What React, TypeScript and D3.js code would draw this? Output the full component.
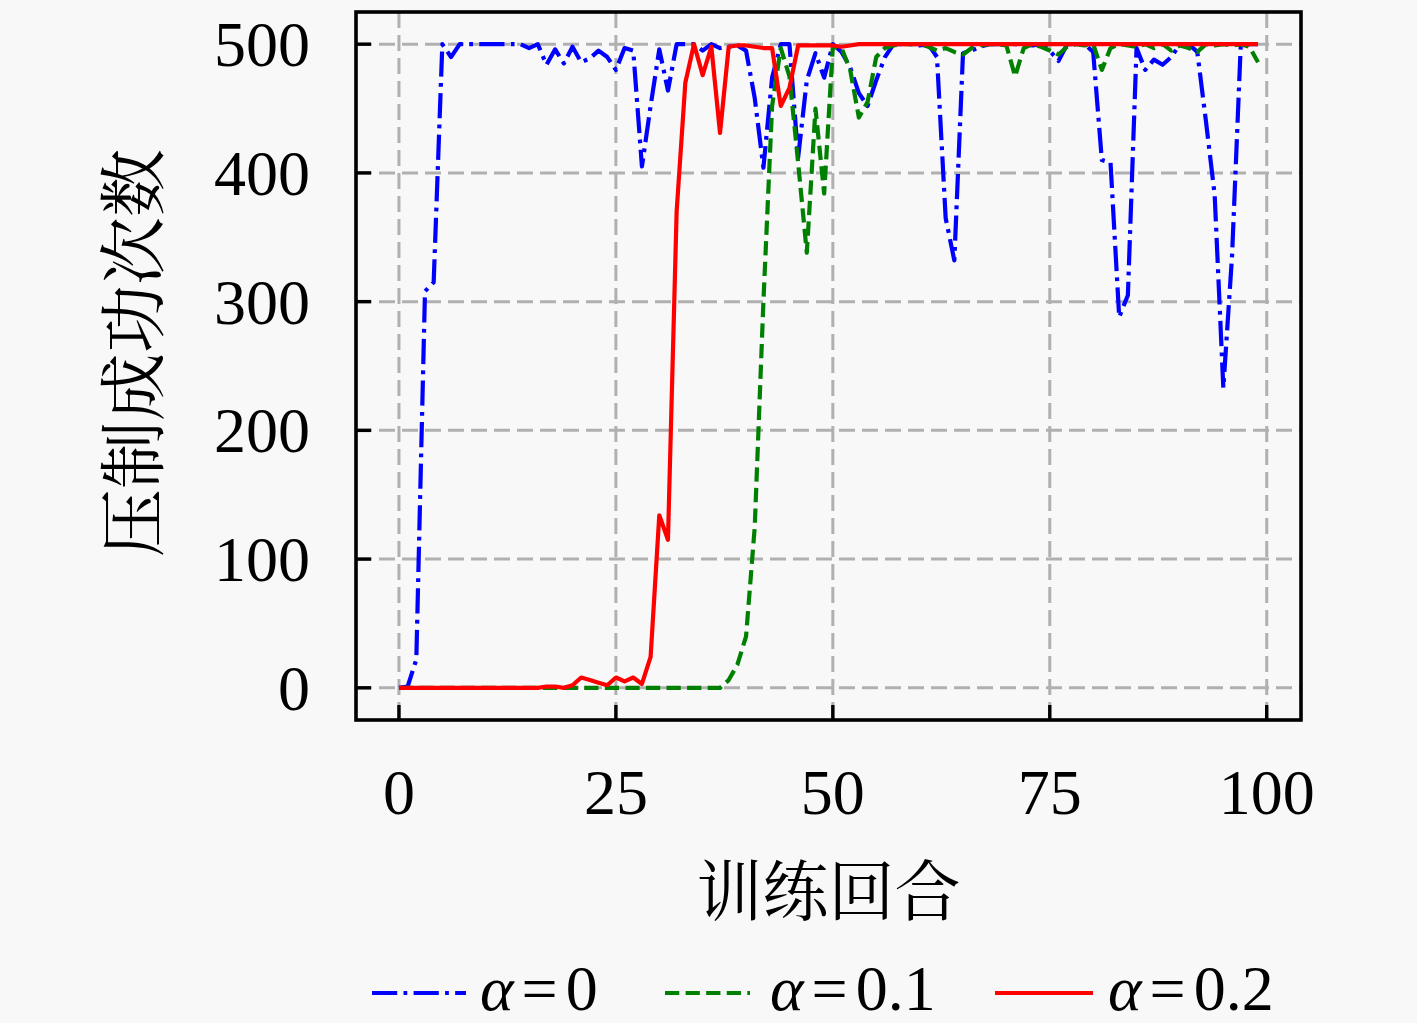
import { scaleLinear, line as d3_line, curveLinear } from "d3";

// training epochs 0..99
const epochs: number[] = Array.from({ length: 100 }, (_, i) => i);

// alpha = 0
const alpha0: number[] = [
  0, 1, 22, 308, 315, 500, 490, 500, 500, 500,
  500, 500, 500, 500, 500, 497, 500, 484, 496, 485,
  498, 486, 489, 495, 490, 480, 497, 495, 405, 452,
  496, 464, 500, 500, 500, 495, 500, 497, 498, 499,
  495, 458, 404, 474, 500, 500, 412, 472, 493, 474,
  500, 494, 482, 462, 452, 472, 490, 500, 500, 500,
  499, 500, 490, 365, 332, 493, 495, 498, 500, 500,
  500, 500, 500, 499, 500, 495, 487, 500, 500, 500,
  494, 410, 408, 288, 305, 497, 480, 488, 484, 490,
  500, 500, 494, 440, 383, 233, 335, 498, 500, 500,
];

// alpha = 0.1
const alpha01: number[] = [
  0, 0, 0, 0, 0, 0, 0, 0, 0, 0,
  0, 0, 0, 0, 0, 0, 0, 0, 0, 0,
  0, 0, 0, 0, 0, 0, 0, 0, 0, 0,
  0, 0, 0, 0, 0, 0, 0, 0, 6, 18,
  40, 125, 300, 452, 497, 475, 408, 338, 450, 384,
  498, 497, 480, 443, 455, 490, 497, 499, 500, 500,
  500, 498, 495, 497, 494, 492, 497, 499, 500, 500,
  499, 475, 497, 500, 498, 495, 492, 498, 500, 499,
  500, 480, 497, 500, 499, 498, 500, 497, 500, 495,
  499, 497, 494, 500, 499, 500, 499, 500, 498, 486,
];

// alpha = 0.2
const alpha02: number[] = [
  0, 0, 0, 0, 0, 0, 0, 0, 0, 0,
  0, 0, 0, 0, 0, 0, 0, 1, 1, 0,
  2, 8, 6, 4, 2, 8, 5, 8, 3, 24,
  134, 115, 370, 470, 500, 476, 498, 431, 498, 499,
  499, 498, 497, 497, 452, 466, 499, 499, 499, 499,
  499, 498, 499, 500, 500, 500, 500, 500, 500, 500,
  500, 500, 500, 500, 500, 500, 500, 500, 500, 500,
  500, 500, 500, 500, 500, 500, 500, 500, 500, 500,
  500, 500, 500, 500, 500, 500, 500, 500, 500, 500,
  500, 500, 500, 500, 500, 500, 500, 500, 500, 500,
];

const xTicks = [0, 25, 50, 75, 100];
const yTicks = [0, 100, 200, 300, 400, 500];
const seriesNames = ["0", "0.1", "0.2"];

const W = 1417;
const H = 1023;
const margin = { left: 356, right: 1301, top: 12, bottom: 720 };

const serif = "'Liberation Serif', 'DejaVu Serif', serif";
const cjk = "'Noto Serif CJK SC', 'Noto Sans CJK SC', sans-serif";

export default function App() {
  const x = scaleLinear().domain([-4.95, 103.95]).range([margin.left, margin.right]);
  const y = scaleLinear().domain([-25, 525]).range([margin.bottom, margin.top]);

  const makeLine = (vals: number[]) =>
    d3_line<number>()
      .x((_, i) => x(epochs[i]))
      .y((d) => y(d))
      .curve(curveLinear)(vals) ?? "";

  const lw = 4.2;
  const series = [
    { vals: alpha0, color: "#0000ff", dash: `${6.0 * lw},${1.5 * lw},${0.9 * lw},${1.5 * lw}` },
    { vals: alpha01, color: "#008000", dash: `${3.4 * lw},${1.5 * lw}` },
    { vals: alpha02, color: "#ff0000", dash: undefined as string | undefined },
  ];

  // legend slots (line start, line end, text start)
  const legendSlots = [
    [372, 466, 480],
    [665, 750, 770],
    [995, 1093, 1108],
  ];
  const legendY = 993;

  return (
    <svg
      width={W}
      height={H}
      style={{ position: "absolute", left: 0, top: 0, background: "#f8f8f8" }}
    >
      <rect x={0} y={0} width={W} height={H} fill="#f8f8f8" />
      <defs>
        <clipPath id="plot-clip">
          <rect
            x={margin.left}
            y={margin.top}
            width={margin.right - margin.left}
            height={margin.bottom - margin.top}
          />
        </clipPath>
      </defs>

      {/* grid */}
      {xTicks.map((t) => (
        <line
          key={`gx${t}`}
          x1={x(t)}
          x2={x(t)}
          y1={margin.top}
          y2={margin.bottom}
          stroke="#b0b0b0"
          strokeWidth={3}
          strokeDasharray="16,7"
        />
      ))}
      {yTicks.map((t) => (
        <line
          key={`gy${t}`}
          x1={margin.left}
          x2={margin.right}
          y1={y(t)}
          y2={y(t)}
          stroke="#b0b0b0"
          strokeWidth={3}
          strokeDasharray="16,7"
        />
      ))}

      {/* series */}
      <g clipPath="url(#plot-clip)">
        {series.map((s, i) => (
          <path
            key={i}
            d={makeLine(s.vals)}
            fill="none"
            stroke={s.color}
            strokeWidth={lw}
            strokeDasharray={s.dash}
            strokeLinejoin="round"
          />
        ))}
      </g>

      {/* spines */}
      <rect
        x={margin.left}
        y={margin.top}
        width={margin.right - margin.left}
        height={margin.bottom - margin.top}
        fill="none"
        stroke="#000"
        strokeWidth={3.6}
      />

      {/* ticks, inward */}
      {xTicks.map((t) => (
        <g key={`tx${t}`}>
          <line x1={x(t)} x2={x(t)} y1={margin.bottom} y2={margin.bottom - 15} stroke="#000" strokeWidth={3.4} />
          <text
            x={x(t)}
            y={814}
            textAnchor="middle"
            fontFamily={serif}
            fontSize={64}
            fill="#000"
          >
            {t}
          </text>
        </g>
      ))}
      {yTicks.map((t) => (
        <g key={`ty${t}`}>
          <line x1={margin.left} x2={margin.left + 15} y1={y(t)} y2={y(t)} stroke="#000" strokeWidth={3.4} />
          <text
            x={310}
            y={y(t) + 22}
            textAnchor="end"
            fontFamily={serif}
            fontSize={64}
            fill="#000"
          >
            {t}
          </text>
        </g>
      ))}

      {/* axis labels */}
      <text
        x={(margin.left + margin.right) / 2}
        y={915}
        textAnchor="middle"
        fontFamily={cjk}
        fontSize={66}
        fill="#000"
      >
        训练回合
      </text>
      <text
        transform={`translate(158, ${353}) rotate(-90)`}
        textAnchor="middle"
        fontFamily={cjk}
        fontSize={68}
        fill="#000"
      >
        压制成功次数
      </text>

      {/* legend */}
      {series.map((s, i) => {
        const [x1, x2, tx] = legendSlots[i];
        return (
          <g key={`lg${i}`}>
            <line
              x1={x1}
              x2={x2}
              y1={legendY}
              y2={legendY}
              stroke={s.color}
              strokeWidth={lw}
              strokeDasharray={s.dash}
            />
            <text x={tx} y={1010} fontFamily={serif} fontSize={64} fill="#000">
              <tspan fontStyle="italic">α</tspan>
              <tspan dx={8}>=</tspan>
              <tspan dx={8}>{seriesNames[i]}</tspan>
            </text>
          </g>
        );
      })}
    </svg>
  );
}
